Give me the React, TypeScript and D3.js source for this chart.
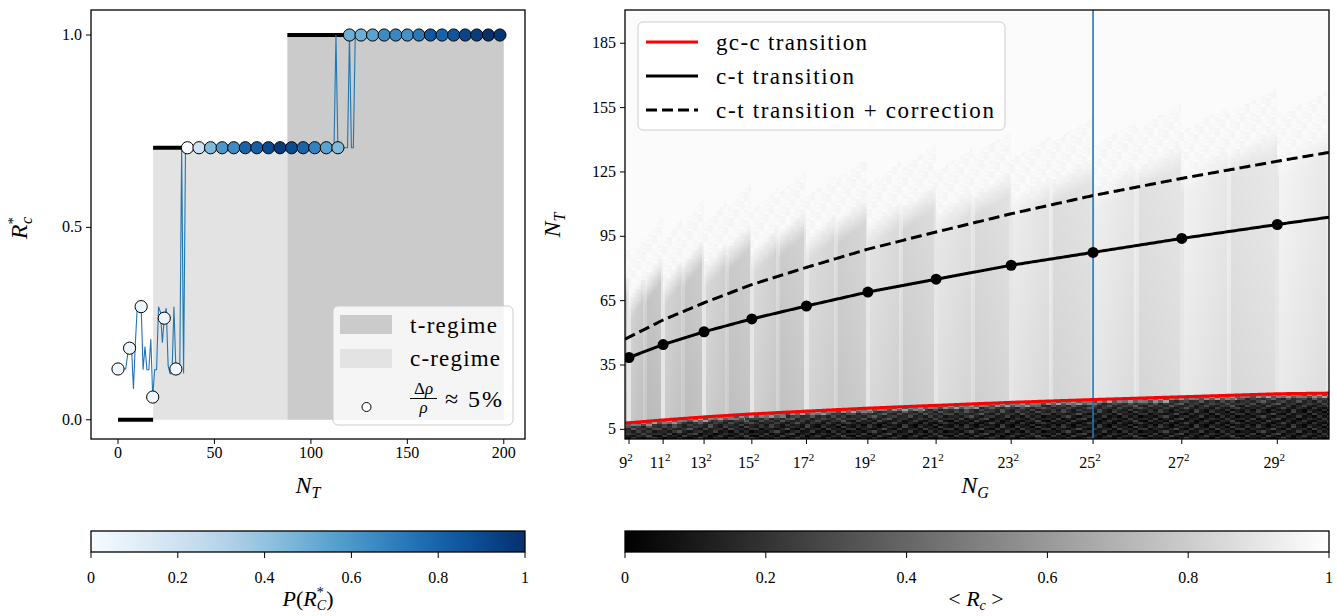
import React, { useMemo } from "react";
import * as d3 from "d3";

const FONT = "'Liberation Serif', 'DejaVu Serif', serif";

// ---------------- Left panel data ----------------
const markerNT = [0, 6, 12, 18, 24, 30, 36, 42, 48, 54, 60, 66, 72, 78, 84, 90, 96, 102, 108, 114, 120, 126, 132, 138, 144, 150, 156, 162, 168, 174, 180, 186, 192, 198];
const markerR = [0.132, 0.186, 0.294, 0.059, 0.264, 0.132,
  0.707, 0.707, 0.707, 0.707, 0.707, 0.707, 0.707, 0.707, 0.707, 0.707, 0.707, 0.707, 0.707, 0.707,
  1, 1, 1, 1, 1, 1, 1, 1, 1, 1, 1, 1, 1, 1];
const markerP = [0.04, 0.05, 0.04, 0.04, 0.05, 0.04,
  0.0, 0.2, 0.45, 0.6, 0.65, 0.8, 0.82, 0.9, 0.96, 0.9, 0.8, 0.68, 0.55, 0.45,
  0.5, 0.5, 0.55, 0.65, 0.66, 0.62, 0.72, 0.85, 0.8, 0.86, 0.92, 0.95, 1.0, 0.98];
// R_c* for every N_T = 0, 1, 2, ...
const traceR = [
  0.132, 0.132, 0.132, 0.132, 0.132, 0.17, 0.186, 0.19, 0.08, 0.2,
  0.294, 0.294, 0.294, 0.13, 0.19, 0.13, 0.13, 0.21, 0.059, 0.13,
  0.13, 0.294, 0.28, 0.2, 0.264, 0.29, 0.14, 0.12, 0.12, 0.294,
  0.132, 0.12, 0.12, 0.707, 0.12, 0.707, 0.707, 0.707, 0.707, 0.707,
  0.707, 0.707, 0.707, 0.707, 0.707, 0.707, 0.707, 0.707, 0.707, 0.707,
  0.707, 0.707, 0.707, 0.707, 0.707, 0.707, 0.707, 0.707, 0.707, 0.707,
  0.707, 0.707, 0.707, 0.707, 0.707, 0.707, 0.707, 0.707, 0.707, 0.707,
  0.707, 0.707, 0.707, 0.707, 0.707, 0.707, 0.707, 0.707, 0.707, 0.707,
  0.707, 0.707, 0.707, 0.707, 0.707, 0.707, 0.707, 0.707, 0.707, 0.707,
  0.707, 0.707, 0.707, 0.707, 0.707, 0.707, 0.707, 0.707, 0.707, 0.707,
  0.707, 0.707, 0.707, 0.707, 0.707, 0.707, 0.707, 0.707, 0.707, 0.707,
  0.707, 0.707, 0.707, 1.0, 0.707, 0.707, 0.707, 0.707, 0.707, 0.707,
  1.0, 0.707, 0.707, 1.0, 1.0, 1.0,
];
const regimeStart = [18.2, 87.8];
const regimeEnd = [87.8, 200];
const regimeLevel = [0.707, 1.0];
const stepStart = [0, 18.2, 87.8];
const stepEnd = [18.2, 87.8, 200];
const stepLevel = [0, 0.707, 1.0];
const leftXTicks = [0, 50, 100, 150, 200];
const leftYTicks = [0, 0.5, 1.0];
const leftYTickLabels = ["0.0", "0.5", "1.0"];

// ---------------- Right panel data ----------------
const nCurve = [9, 11, 13, 15, 17, 19, 21, 23, 25, 27, 29, 30];
const ctTransition = [38.5, 44.5, 50.5, 56.5, 62.5, 69, 75, 81.5, 87.5, 94, 100.5, 103.8];
const ctCorrection = [48, 56, 64, 72.5, 80.5, 89, 97, 105.5, 114, 122, 130, 134];
const gcTransition = [8.1, 9.4, 10.8, 12.2, 13.5, 14.9, 16.2, 17.6, 18.9, 20.2, 21.6, 21.9];
const grayTop = [60, 67, 75, 82, 88, 94, 100, 106, 112, 119, 126, 130];
const bandGray = [0.74, 0.75, 0.76, 0.77, 0.78, 0.8, 0.82, 0.84, 0.85, 0.86, 0.87, 0.87];
const nMarkers = [9, 11, 13, 15, 17, 19, 21, 23, 25, 27, 29];
const rightYTicks = [5, 35, 65, 95, 125, 155, 185];
const highlightNG = 625;
const darkTile = [
  [0.06, 0.14, 0.03, 0.2, 0.09, 0.02, 0.16, 0.07, 0.11, 0.04, 0.22, 0.08, 0.02, 0.13, 0.1, 0.05, 0.18, 0.03, 0.09],
  [0.12, 0.04, 0.1, 0.06, 0.18, 0.08, 0.03, 0.12, 0.25, 0.09, 0.05, 0.15, 0.1, 0.03, 0.2, 0.08, 0.04, 0.14, 0.22],
  [0.02, 0.2, 0.08, 0.13, 0.04, 0.24, 0.1, 0.05, 0.08, 0.17, 0.03, 0.1, 0.21, 0.07, 0.04, 0.15, 0.11, 0.26, 0.05],
  [0.15, 0.07, 0.22, 0.03, 0.12, 0.06, 0.19, 0.26, 0.04, 0.11, 0.14, 0.02, 0.09, 0.18, 0.12, 0.06, 0.21, 0.08, 0.13],
  [0.08, 0.11, 0.05, 0.17, 0.27, 0.1, 0.04, 0.13, 0.18, 0.06, 0.09, 0.23, 0.05, 0.11, 0.03, 0.19, 0.07, 0.16, 0.02],
  [0.2, 0.03, 0.14, 0.09, 0.06, 0.15, 0.28, 0.08, 0.03, 0.2, 0.07, 0.12, 0.16, 0.04, 0.24, 0.1, 0.13, 0.05, 0.19],
  [0.05, 0.18, 0.1, 0.24, 0.13, 0.04, 0.09, 0.17, 0.12, 0.05, 0.26, 0.09, 0.03, 0.21, 0.08, 0.13, 0.02, 0.23, 0.1],
];
const edgeGray = [0.45, 0.3, 0.55, 0.38, 0.62, 0.33, 0.5, 0.42, 0.58, 0.36, 0.48];
const topSpeckle = [0.975, 0.965, 0.985, 0.97, 0.96, 0.98, 0.97, 0.985, 0.965, 0.98, 0.97, 0.96, 0.975];
const cbTicks = [0, 0.2, 0.4, 0.6, 0.8, 1];
const cbLabels = ["0", "0.2", "0.4", "0.6", "0.8", "1"];

// ---------------- geometry ----------------
const L = { x0: 91, x1: 525, y0: 10, y1: 439 };
const R = { x0: 625, x1: 1329, y0: 10, y1: 439 };

const xL = d3.scaleLinear().domain([-14, 211]).range([L.x0, L.x1]);
const yL = d3.scaleLinear().domain([-0.05, 1.065]).range([L.y1, L.y0]);
const xR = d3.scaleLinear().domain([76.3, 901.6]).range([R.x0, R.x1]);
const yR = d3.scaleLinear().domain([0.5, 200.5]).range([R.y1, R.y0]);

const ngOf = (n: number) => n * n;
const curveScale = (vals: number[]) => d3.scaleLinear().domain(nCurve.map(ngOf)).range(vals);

function buildHeatmap(): string {
  const w = R.x1 - R.x0;
  const h = R.y1 - R.y0;
  const canvas = document.createElement("canvas");
  canvas.width = w;
  canvas.height = h;
  const ctx = canvas.getContext("2d");
  if (!ctx) return "";
  const img = ctx.createImageData(w, h);
  const gcS = curveScale(gcTransition);
  const topS = curveScale(grayTop);
  const bandS = curveScale(bandGray);
  for (let px = 0; px < w; px++) {
    const ng = Math.round(xR.invert(R.x0 + px + 0.5));
    const root = Math.sqrt(ng);
    const lo = Math.floor(root);
    const hi = lo + 1;
    const dLo = ng - lo * lo;
    const dHi = hi * hi - ng;
    const nearSq = Math.min(dLo, dHi);
    const oddNear = (dLo <= dHi ? lo : hi) % 2 === 1;
    const gc = gcS(ng);
    const top = topS(ng);
    const base = bandS(ng);
    const frac = dLo / (hi * hi - lo * lo);
    const col = Math.floor(ng / 6);
    for (let py = 0; py < h; py++) {
      const nt = Math.round(yR.invert(R.y0 + py + 0.5));
      let v: number;
      if (nt < gc - 2) {
        const tr = darkTile[nt % darkTile.length];
        v = tr[col % tr.length] + 0.12 * Math.max(0, nt - (gc - 8)) / 6;
      } else if (nt < gc) {
        v = edgeGray[(col + nt) % edgeGray.length];
      } else {
        let g = base + (lo % 2 === 1 ? 0.05 : -0.02) * (1 - frac) + 0.04 * (nt - gc) / Math.max(10, top - gc);
        if (nearSq <= 2) g = oddNear ? 0.9 : Math.min(0.93, g + 0.05);
        const fadeTop = top + (lo % 2 === 1 ? -5 : 0) + 8 * frac;
        if (nt > fadeTop) {
          const t = Math.min(1, (nt - fadeTop) / 12);
          const sp = nt - fadeTop < 30 ? topSpeckle[(col + nt * 3) % topSpeckle.length] : 0.985;
          g = g + (sp - g) * t;
        }
        v = g;
      }
      const c = Math.max(0, Math.min(255, Math.round(v * 255)));
      const i = (py * w + px) * 4;
      img.data[i] = c;
      img.data[i + 1] = c;
      img.data[i + 2] = c;
      img.data[i + 3] = 255;
    }
  }
  ctx.putImageData(img, 0, 0);
  return canvas.toDataURL();
}

export default function App() {
  const heat = useMemo(() => buildHeatmap(), []);

  const trace = d3
    .line<number>()
    .x((_, i) => xL(i))
    .y((d) => yL(d));

  const ctS = curveScale(ctTransition);
  const corrS = curveScale(ctCorrection);
  const gcS = curveScale(gcTransition);
  const ngLine = d3.range(R.x0, R.x1 + 1, 2).map((px) => xR.invert(px));
  const mkLine = (s: (x: number) => number) =>
    d3
      .line<number>()
      .x((d) => xR(d))
      .y((d) => yR(s(d)))(ngLine) || "";

  const blueStops = d3.range(0, 1.0001, 0.05);
  const tickFont = 16;

  return (
    <svg width={1337} height={616} style={{ display: "block", position: "absolute", left: 0, top: 0, fontFamily: FONT }}>
      <defs>
        <linearGradient id="blues" x1="0" x2="1" y1="0" y2="0">
          {blueStops.map((t) => (
            <stop key={t} offset={t} stopColor={d3.interpolateBlues(t)} />
          ))}
        </linearGradient>
        <linearGradient id="grays" x1="0" x2="1" y1="0" y2="0">
          <stop offset={0} stopColor="#000" />
          <stop offset={1} stopColor="#fff" />
        </linearGradient>
        <clipPath id="clipL">
          <rect x={L.x0} y={L.y0} width={L.x1 - L.x0} height={L.y1 - L.y0} />
        </clipPath>
        <clipPath id="clipR">
          <rect x={R.x0} y={R.y0} width={R.x1 - R.x0} height={R.y1 - R.y0} />
        </clipPath>
      </defs>
      <rect x={0} y={0} width={1337} height={616} fill="#fff" />

      {/* ================= LEFT PANEL ================= */}
      <g clipPath="url(#clipL)">
        {regimeStart.map((s, i) => (
          <rect
            key={"rg" + i}
            x={xL(s)}
            y={yL(regimeLevel[i])}
            width={xL(regimeEnd[i]) - xL(s)}
            height={yL(0) - yL(regimeLevel[i])}
            fill={i === 0 ? "#e3e3e3" : "#cbcbcb"}
          />
        ))}
        {stepStart.map((s, i) => (
          <line key={"st" + i} x1={xL(s)} x2={xL(stepEnd[i])} y1={yL(stepLevel[i])} y2={yL(stepLevel[i])} stroke="#000" strokeWidth={4} />
        ))}
        <path d={trace(traceR) || ""} fill="none" stroke="#1f77b4" strokeWidth={1.1} />
        {markerNT.map((n, i) => (
          <circle key={"m" + i} cx={xL(n)} cy={yL(markerR[i])} r={6.1} fill={d3.interpolateBlues(markerP[i])} stroke="#000" strokeWidth={1} />
        ))}
      </g>
      <rect x={L.x0} y={L.y0} width={L.x1 - L.x0} height={L.y1 - L.y0} fill="none" stroke="#000" strokeWidth={1.3} />
      {leftXTicks.map((t) => (
        <g key={"lx" + t}>
          <line x1={xL(t)} x2={xL(t)} y1={L.y1} y2={L.y1 + 5} stroke="#000" />
          <text x={xL(t)} y={L.y1 + 19} textAnchor="middle" fontSize={tickFont}>{t}</text>
        </g>
      ))}
      {leftYTicks.map((t, i) => (
        <g key={"ly" + t}>
          <line x1={L.x0 - 5} x2={L.x0} y1={yL(t)} y2={yL(t)} stroke="#000" />
          <text x={L.x0 - 9} y={yL(t) + 5} textAnchor="end" fontSize={tickFont}>{leftYTickLabels[i]}</text>
        </g>
      ))}
      <text x={(L.x0 + L.x1) / 2} y={493} textAnchor="middle" fontSize={24} fontStyle="italic">
        N<tspan dy={5} fontSize={16}>T</tspan>
      </text>
      <g transform={`translate(27, 228) rotate(-90)`}>
        <text x={0} y={0} textAnchor="middle" fontSize={24} fontStyle="italic">
          R<tspan dy={-9} fontSize={15} fontStyle="normal">*</tspan><tspan dx={-7} dy={14} fontSize={16}>c</tspan>
        </text>
      </g>
      {/* left legend */}
      <rect x={333} y={306} width={180} height={119} rx={5} fill="#fff" fillOpacity={0.8} stroke="#cccccc" strokeWidth={1} />
      <rect x={340} y={315} width={52} height={19} fill="#cbcbcb" />
      <rect x={340} y={349} width={52} height={19} fill="#e3e3e3" />
      <circle cx={366.5} cy={407} r={4.5} fill="#fff" stroke="#000" strokeWidth={1} />
      <text x={410} y={333} fontSize={23} textLength={87} lengthAdjust="spacing">t-regime</text>
      <text x={410} y={366} fontSize={23} textLength={90} lengthAdjust="spacing">c-regime</text>
      <text x={423.5} y={394} fontSize={17} textAnchor="middle">Δ<tspan fontStyle="italic">ρ</tspan></text>
      <line x1={410} x2={437} y1={398.5} y2={398.5} stroke="#000" strokeWidth={1} />
      <text x={423.5} y={413} fontSize={17} textAnchor="middle" fontStyle="italic">ρ</text>
      <text x={445} y={407} fontSize={24} textLength={57} lengthAdjust="spacing">≈ 5%</text>

      {/* ================= RIGHT PANEL ================= */}
      <g clipPath="url(#clipR)">
        {heat && (
          <image href={heat} x={R.x0} y={R.y0} width={R.x1 - R.x0} height={R.y1 - R.y0} preserveAspectRatio="none" style={{ imageRendering: "pixelated" }} />
        )}
        <line x1={xR(highlightNG)} x2={xR(highlightNG)} y1={R.y0} y2={R.y1} stroke="#1f77b4" strokeWidth={1.6} />
        <path d={mkLine(gcS)} fill="none" stroke="#ff0000" strokeWidth={3} />
        <path d={mkLine(corrS)} fill="none" stroke="#000" strokeWidth={3} strokeDasharray="11,5" />
        <path d={mkLine(ctS)} fill="none" stroke="#000" strokeWidth={3} />
        {nMarkers.map((n) => (
          <circle key={"cm" + n} cx={xR(ngOf(n))} cy={yR(ctS(ngOf(n)))} r={5.5} fill="#000" />
        ))}
      </g>
      <rect x={R.x0} y={R.y0} width={R.x1 - R.x0} height={R.y1 - R.y0} fill="none" stroke="#000" strokeWidth={1.3} />
      {nMarkers.map((n) => (
        <g key={"rx" + n}>
          <line x1={xR(ngOf(n))} x2={xR(ngOf(n))} y1={R.y1} y2={R.y1 + 5} stroke="#000" />
          <text x={xR(ngOf(n)) - 3} y={R.y1 + 29} textAnchor="middle" fontSize={tickFont}>
            {n}
            <tspan dy={-7} fontSize={11}>2</tspan>
          </text>
        </g>
      ))}
      {rightYTicks.map((t) => (
        <g key={"ry" + t}>
          <line x1={R.x0 - 5} x2={R.x0} y1={yR(t)} y2={yR(t)} stroke="#000" />
          <text x={R.x0 - 9} y={yR(t) + 5} textAnchor="end" fontSize={tickFont}>{t}</text>
        </g>
      ))}
      <text x={975} y={493} textAnchor="middle" fontSize={24} fontStyle="italic">
        N<tspan dy={5} fontSize={16}>G</tspan>
      </text>
      <g transform={`translate(560, 225) rotate(-90)`}>
        <text x={0} y={0} textAnchor="middle" fontSize={24} fontStyle="italic">
          N<tspan dy={5} fontSize={16}>T</tspan>
        </text>
      </g>
      {/* right legend */}
      <rect x={638} y={22} width={367} height={108} rx={5} fill="#fff" fillOpacity={0.85} stroke="#cccccc" strokeWidth={1} />
      <line x1={646} x2={698} y1={42} y2={42} stroke="#ff0000" strokeWidth={3} />
      <line x1={646} x2={698} y1={76} y2={76} stroke="#000" strokeWidth={3} />
      <line x1={646} x2={698} y1={110} y2={110} stroke="#000" strokeWidth={3} strokeDasharray="11,5" />
      <text x={716} y={50} fontSize={23} textLength={151} lengthAdjust="spacing">gc-c transition</text>
      <text x={716} y={84} fontSize={23} textLength={138} lengthAdjust="spacing">c-t transition</text>
      <text x={716} y={118} fontSize={23} textLength={278} lengthAdjust="spacing">c-t transition + correction</text>

      {/* ================= COLORBARS ================= */}
      {[
        { x0: L.x0, x1: L.x1, fill: "url(#blues)", key: "cbl" },
        { x0: R.x0, x1: R.x1, fill: "url(#grays)", key: "cbr" },
      ].map((cb) => {
        const s = d3.scaleLinear().domain([0, 1]).range([cb.x0, cb.x1]);
        return (
          <g key={cb.key}>
            <rect x={cb.x0} y={531} width={cb.x1 - cb.x0} height={21} fill={cb.fill} stroke="#000" strokeWidth={1.3} />
            {cbTicks.map((t, i) => (
              <g key={cb.key + t}>
                <line x1={s(t)} x2={s(t)} y1={552} y2={558} stroke="#000" />
                <text x={s(t)} y={583} textAnchor="middle" fontSize={tickFont}>{cbLabels[i]}</text>
              </g>
            ))}
          </g>
        );
      })}
      <text x={308} y={606} textAnchor="middle" fontSize={22}>
        <tspan fontStyle="italic">P</tspan>(<tspan fontStyle="italic">R</tspan>
        <tspan dy={-9} fontSize={14}>*</tspan>
        <tspan dx={-7} dy={13} fontSize={14} fontStyle="italic">C</tspan>
        <tspan dy={-4}>)</tspan>
      </text>
      <text x={976} y={606} textAnchor="middle" fontSize={22}>
        {"< "}<tspan fontStyle="italic">R</tspan><tspan dy={4} fontSize={14} fontStyle="italic">c</tspan><tspan dy={-4}>{" >"}</tspan>
      </text>
    </svg>
  );
}
